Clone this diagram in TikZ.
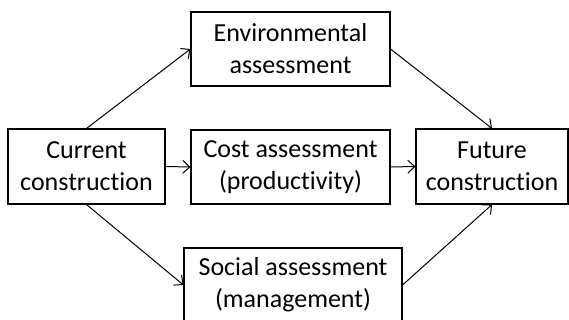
\documentclass[tikz,border=0pt]{standalone}
\usepackage{fontspec}
\setmainfont{Carlito}[Ligatures={NoCommon,NoContextual}]
\usetikzlibrary{arrows.meta}
\tikzset{
  box/.style={draw=black, line width=1.1pt, inner sep=0pt, align=center,
    font=\fontsize{26pt}{32pt}\selectfont},
  conn/.style={line width=1pt, -{Straight Barb[length=7pt,width=13pt,line width=1pt]}}
}
\begin{document}
\begin{tikzpicture}[x=1pt,y=-1pt]
\useasboundingbox (0,0) rectangle (569,320);
\node[box, minimum width=157pt, minimum height=75pt] (cur) at (86.5,166.5) {Current\\construction};
\node[box, minimum width=199pt, minimum height=74pt] (env) at (290.5,49) {Environmental\\assessment};
\node[box, minimum width=199pt, minimum height=74pt] (cost) at (290.5,167) {Cost assessment\\(productivity)};
\node[box, minimum width=152pt, minimum height=75pt] (fut) at (492,166.5) {Future\\construction};
\node[box, minimum width=218pt, minimum height=74pt] (soc) at (293,285) {Social assessment\\(management)};
\draw[conn] (cur.north) -- (env.west);
\draw[conn] (cur.east) -- (cost.west);
\draw[conn] (cur.south) -- (soc.west);
\draw[conn] (env.east) -- (fut.north);
\draw[conn] (cost.east) -- (fut.west);
\draw[conn] (soc.east) -- (fut.south);
\end{tikzpicture}
\end{document}
